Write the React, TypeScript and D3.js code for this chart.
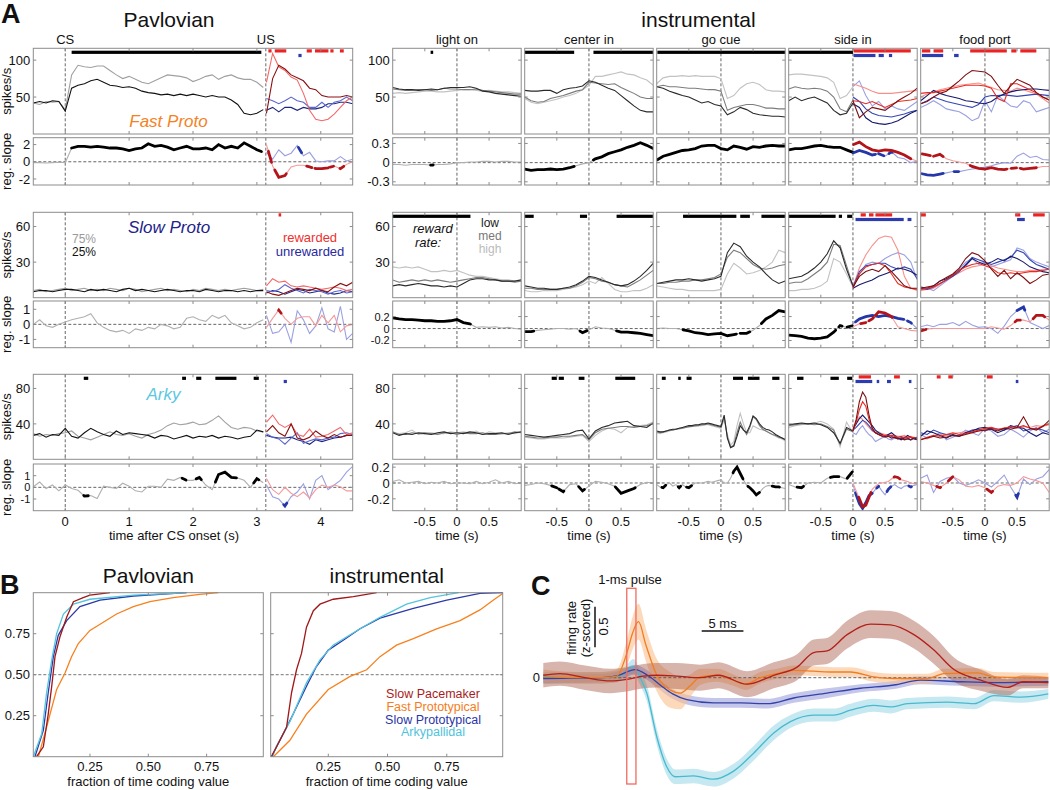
import React from "react";
import * as d3 from "d3";

type P = [number, number];
type Iv = [number, number];

const FONT = "'Liberation Sans', Arial, Helvetica, sans-serif";

// ================= PANEL A DATA =================
// Pavlovian pre-US samples: -0.5..3.1 s ; post-US samples: 3.15..4.5 s
const US_T = 3.14;
// ---- Fast Proto ----
const fastPav75 = [42,40,44,43,44,33,80,93,91,90,92,92,86,80,75,78,74,70,68,72,76,80,79,78,76,71,74,78,80,74,78,80,76,74,74,70,63];
const fastPav25 = [42,44,42,45,44,31,62,66,68,72,74,70,66,65,63,64,62,58,56,55,53,54,52,54,52,54,52,50,52,50,50,46,40,28,26,28,33];
const fastPavDRed = [28,75,93,88,80,76,72,62,60,52,50,50,50,52,50];
const fastPavLRed = [70,109,91,86,77,73,55,32,20,18,20,27,36,45,50];
const fastPavBlue = [48,45,41,45,50,45,43,36,36,43,36,43,45,50,45];
const fastPavNavy = [32,36,30,36,36,32,36,34,34,36,41,41,43,43,41];
const fastPavSlopePre = [-0.1,-0.1,-0.15,-0.1,-0.05,-0.1,1.6,1.8,1.8,1.7,1.8,1.7,1.6,1.6,1.5,1.3,1.5,1.6,2.1,1.8,1.9,1.7,1.4,1.6,1.8,1.5,1.5,1.6,1.4,2.0,1.6,1.8,1.6,2.2,1.8,1.4,1.1];
const fastPavSlopeRed = [2.0,-0.5,-1.8,-1.6,-0.6,-0.4,-0.4,-0.6,-0.8,-0.8,-0.7,-0.5,-0.8,-0.3,0];
const fastPavSlopeBlue = [1.1,0.3,1.4,0.7,1.0,1.9,0.7,1.1,0.1,0,0.1,0.1,0.6,0.1,0.3];
const fastPavK: Iv[] = [[0.1,3.07]];
const fastPavR: Iv[] = [[3.18,3.23],[3.28,3.46],[3.78,3.86],[3.91,4.12],[4.15,4.2],[4.3,4.36]];
const fastPavB: Iv[] = [[3.65,3.7]];
// instrumental: -1..1 s
const fastLoLow = [63,61,60,60,59,60,61,60,62,63,63,63,64,62,58,57,55,54,53,52,51];
const fastLoMed = [61,60,59,59,60,60,59,60,62,61,61,60,60,61,59,58,57,56,55,54,54];
const fastLoHigh = [55,56,55,56,57,58,58,57,57,58,59,60,60,59,58,59,58,57,57,56,55];
const fastLoSlope = [-0.03,-0.03,-0.04,-0.03,-0.03,-0.03,-0.04,-0.03,-0.03,-0.02,0,0,0.01,0.01,0.02,0.02,0.01,0.02,0.02,0.01,0.01];
const fastLoK: Iv[] = [[-0.41,-0.37]];
const fastCiLow = [59,58,58,59,59,55,60,62,63,65,72,70,66,62,59,52,45,38,32,30,30];
const fastCiMed = [50,45,43,44,48,50,52,55,58,60,70,69,68,67,68,63,59,55,50,48,48];
const fastCiHigh = [48,43,41,43,45,47,50,52,55,60,66,78,78,80,82,84,81,80,76,73,66];
const fastCiSlope = [-0.1,-0.12,-0.11,-0.11,-0.1,-0.11,-0.1,-0.08,-0.05,-0.02,0,0.06,0.09,0.14,0.17,0.2,0.24,0.27,0.31,0.27,0.22];
const fastCiK: Iv[] = [[-1,-0.23],[0.07,1]];
const fastGcLow = [64,62,58,55,52,50,46,42,44,40,38,26,30,36,33,28,26,25,24,24,23];
const fastGcMed = [64,66,64,64,63,62,62,61,60,60,58,32,36,38,40,40,38,35,35,34,34];
const fastGcHigh = [68,76,78,78,79,78,79,78,78,78,75,48,52,62,68,70,67,60,58,58,57];
const fastGcSlope = [0.04,0.1,0.13,0.16,0.19,0.2,0.22,0.26,0.27,0.27,0.22,0.2,0.26,0.24,0.21,0.25,0.24,0.26,0.27,0.26,0.26];
const fastGcK: Iv[] = [[-0.99,1]];
const fastSiPreLow = [45,50,45,48,50,46,42,32,26,28,42];
const fastSiPreMed = [61,64,62,61,62,61,58,50,34,30,46];
const fastSiPreHigh = [80,81,81,80,79,78,76,70,48,52,64];
const fastSiDRed = [45,22,30,36,34,32,38,45,50,55,62];
const fastSiRed = [45,44,41,44,40,36,40,44,45,46,48];
const fastSiLRed = [68,65,62,58,55,55,55,56,57,58,59];
const fastSiNavy = [41,36,22,16,14,13,15,18,23,28,32];
const fastSiBlue = [50,44,34,28,25,24,23,25,27,30,32];
const fastSiLBlue = [64,72,52,38,44,34,38,34,32,38,44];
const fastSiSlopePre = [0.2,0.22,0.22,0.24,0.26,0.27,0.25,0.24,0.24,0.2,0.16];
const fastSiSlopeRed = [0.28,0.32,0.25,0.2,0.18,0.2,0.19,0.16,0.12,0.06,0.02];
const fastSiSlopeBlue = [0.15,0.19,0.16,0.12,0.14,0.1,0.17,0.08,0.06,0.0,0.02];
const fastSiK: Iv[] = [[-1,0]];
const fastSiR: Iv[] = [[0.01,0.9]];
const fastSiB: Iv[] = [[0.01,0.35],[0.4,0.48],[0.56,0.61]];
const fastFpDRed = [41,44,50,55,58,65,72,80,86,85,84,78,66,55,65,74,70,66,56,50,46];
const fastFpRed = [55,56,56,58,60,62,64,66,66,66,65,62,48,44,68,68,64,60,56,50,46];
const fastFpLRed = [50,54,57,60,62,64,66,67,68,69,66,63,60,59,58,62,60,57,54,48,42];
const fastFpNavy = [45,52,59,55,52,50,48,45,44,42,41,44,50,54,57,59,60,61,61,60,59];
const fastFpBlue = [41,45,50,47,44,42,40,38,36,40,50,52,52,53,52,51,52,53,54,53,52];
const fastFpLBlue = [36,40,45,40,34,32,30,25,18,22,45,30,52,45,38,36,45,42,30,33,36];
const fastFpSlopeRed = [0.14,0.12,0.1,0.13,0.06,0.03,0.01,-0.01,-0.06,-0.09,-0.1,-0.08,-0.1,-0.11,-0.09,-0.08,-0.1,-0.09,-0.08,-0.06,-0.06];
const fastFpSlopeBlue = [-0.17,-0.19,-0.2,-0.18,-0.16,-0.14,-0.14,-0.12,-0.1,-0.09,-0.07,-0.05,-0.02,0,-0.01,0.1,0.15,0.08,0.1,0.05,0.04];
const fastFpR: Iv[] = [[-0.98,-0.85],[-0.8,-0.65],[-0.23,0.34],[0.41,0.49],[0.55,0.8]];
const fastFpB: Iv[] = [[-0.98,-0.65],[-0.48,-0.41]];

// ---- Slow Proto ----
const slowPav75 = [6,7,5,6,7,8,6,7,8,6,7,6,8,7,6,8,7,5,6,7,8,6,7,6,5,7,6,8,7,6,7,6,7,8,7,6,7];
const slowPav25 = [5,6,6,5,6,7,7,6,5,7,6,7,6,5,7,8,6,7,6,5,6,7,6,5,6,6,5,7,6,5,6,6,5,6,5,6,6];
const slowPavDRed = [5,3,2,4,6,8,7,6,8,6,5,9,12,10,13];
const slowPavLRed = [10,16,13,14,10,9,10,9,8,7,8,9,8,6,7];
const slowPavBlue = [6,5,7,11,8,6,4,7,6,5,3,5,6,4,5];
const slowPavNavy = [4,6,5,3,5,7,6,4,5,6,4,3,4,6,5];
const slowPavSlopePre = [0,0.3,-0.1,-0.2,0,0.15,0.3,0.4,0.5,0.7,0.1,-0.2,-0.4,-0.5,-0.4,-0.6,-0.3,-0.4,-0.2,-0.3,0,-0.1,-0.3,-0.2,0.4,0.5,0.3,0.2,0.6,0.4,0.6,0.1,-0.1,-0.3,-0.2,0.1,0.3];
const slowPavSlopeRed = [-0.2,0.4,0.95,0.4,0,0.4,0.5,0.5,-0.1,0.6,0.1,0.6,-0.5,-0.1,0];
const slowPavSlopeBlue = [0.6,-0.6,-0.5,0,-1.2,0.9,0.3,-0.6,-0.1,1.1,-0.3,-0.5,1.2,-1.0,-0.6];
const slowPavK: Iv[] = [];
const slowPavR: Iv[] = [[3.34,3.38]];
const slowPavB: Iv[] = [];
const slowLoLow = [10,11,10,11,12,11,10,10,9,10,9,12,15,16,16,15,15,14,14,14,15];
const slowLoMed = [15,13,14,15,14,15,14,15,14,13,14,15,16,17,17,16,15,14,14,13,14];
const slowLoHigh = [26,25,26,25,26,24,22,22,23,22,23,21,19,18,18,17,16,15,15,14,14];
const slowLoSlope = [0.18,0.16,0.15,0.15,0.14,0.13,0.13,0.12,0.12,0.13,0.15,0.1,0.08,0.02,0.03,0.02,0.03,0.01,0.02,0,-0.01];
const slowLoK: Iv[] = [[-1,0.21]];
const slowCiLow = [10,9,8,8,7,7,8,9,11,14,18,17,15,13,11,10,11,14,18,23,29];
const slowCiMed = [8,8,7,7,7,7,8,8,10,13,17,16,14,13,11,10,9,12,15,19,23];
const slowCiHigh = [6,5,5,6,6,6,7,8,9,11,14,12,17,12,7,5,5,6,6,8,11];
const slowCiSlope = [-0.05,-0.05,-0.03,-0.02,-0.01,0,0,-0.01,0,-0.07,-0.02,0.03,0.01,0,-0.03,-0.06,-0.06,-0.07,-0.08,-0.1,-0.12];
const slowCiK: Iv[] = [[-1,-0.86],[-0.14,-0.03],[0.43,1]];
const slowGcLow = [12,13,14,15,15,16,15,14,15,16,18,38,46,43,35,30,26,20,15,12,14];
const slowGcMed = [12,12,13,13,14,14,15,15,16,17,20,34,40,38,33,28,25,24,25,27,28];
const slowGcHigh = [10,9,8,7,7,6,6,6,6,6,7,20,29,25,20,21,23,26,30,40,38];
const slowGcSlope = [0,0.01,0,0,-0.02,-0.04,-0.07,-0.08,-0.1,-0.09,-0.08,-0.12,-0.1,-0.08,-0.08,-0.03,0.05,0.16,0.22,0.3,0.28];
const slowGcK: Iv[] = [[-0.59,0.24],[0.3,0.45],[0.63,1]];
const slowSiPreLow = [16,17,18,21,25,30,37,48,42,24,10];
const slowSiPreMed = [12,13,13,16,20,24,30,45,44,27,10];
const slowSiPreHigh = [6,6,7,7,8,10,14,33,30,20,9];
const slowSiDRed = [9,18,22,24,22,27,22,16,10,8,8];
const slowSiRed = [8,20,26,28,29,27,20,12,9,8,7];
const slowSiLRed = [9,25,36,44,50,52,51,40,18,8,6];
const slowSiNavy = [8,11,13,15,18,20,22,25,24,22,19];
const slowSiBlue = [9,22,27,28,29,29,26,24,26,24,16];
const slowSiLBlue = [9,20,28,30,29,33,36,38,36,30,15];
const slowSiSlopePre = [-0.11,-0.12,-0.13,-0.16,-0.17,-0.16,-0.14,-0.06,0.05,0.02,0.05];
const slowSiSlopeRed = [0.03,0.08,0.1,0.16,0.28,0.26,0.2,0.03,0,-0.03,-0.04];
const slowSiSlopeBlue = [0.08,0.16,0.2,0.22,0.2,0.22,0.2,0.17,0.15,0.1,0];
const slowSiK: Iv[] = [[-1,-0.27],[-0.22,-0.17],[-0.09,-0.01]];
const slowSiR: Iv[] = [[0.12,0.2],[0.25,0.32],[0.35,0.61]];
const slowSiB: Iv[] = [[0.04,0.79],[0.85,0.91]];
const slowFpDRed = [8,9,10,14,17,20,25,33,38,36,31,24,18,23,16,21,17,12,15,19,20];
const slowFpRed = [7,8,9,12,15,19,23,26,28,29,27,25,21,20,21,20,21,22,22,23,24];
const slowFpLRed = [6,7,8,11,15,18,21,24,26,27,28,27,25,24,23,22,22,23,23,24,24];
const slowFpNavy = [9,8,10,14,16,19,23,27,33,30,28,30,33,31,35,33,30,26,24,22,21];
const slowFpBlue = [8,7,9,12,15,18,22,28,34,32,30,28,30,32,34,40,38,32,28,26,24];
const slowFpLBlue = [6,8,6,10,14,18,24,30,33,28,30,26,28,30,32,42,40,33,30,28,26];
const slowFpSlopeRed = [-0.04,-0.01,0,0,0,0,0,0,0,0,0,0.03,0.01,-0.01,0.05,0.14,0.14,0.11,0.22,0.22,0.14];
const slowFpSlopeBlue = [0.03,0.06,0.03,0.07,0.07,0.1,0.05,0.12,0.06,0.02,0.03,0,-0.08,0.04,0.2,0.3,0.36,0.1,0.05,0,0.05];
const slowFpR: Iv[] = [[-1,-0.92],[0.47,0.55],[0.75,0.93]];
const slowFpB: Iv[] = [[0.5,0.62]];

// ---- Arky ----
const arkyPav75 = [29,26,28,27,29,30,32,26,24,22,25,28,31,28,27,29,26,24,28,30,33,38,41,39,40,42,39,40,44,49,42,36,34,36,35,32,31];
const arkyPav25 = [27,29,25,28,27,35,26,24,30,35,31,28,26,32,28,30,29,28,27,24,27,26,23,25,27,24,26,25,27,24,26,25,23,25,26,33,31];
const arkyPavDRed = [31,38,30,26,40,24,22,25,32,27,24,28,25,27,27];
const arkyPavLRed = [42,50,40,36,40,28,26,34,25,26,28,32,36,28,30];
const arkyPavBlue = [29,25,23,17,24,30,18,21,23,22,24,25,29,30,28];
const arkyPavNavy = [27,25,24,24,25,22,20,17,22,20,22,24,25,27,27];
const arkyPavSlopePre = [0.05,0.45,-0.1,0.2,-0.3,0.2,-0.1,-0.25,-0.75,-0.7,-0.95,0.1,0,-0.1,0.35,0.1,-0.3,-0.4,0.1,0.1,0,0.7,0.6,0.85,0.6,0.6,0.85,0.2,-0.2,1.1,1.3,0.85,0.8,0.6,0,0.75,0.4];
const arkyPavSlopeRed = [0.75,-0.2,-0.6,0,-0.5,-0.8,-0.4,-0.9,-0.2,0.2,0,0.2,0.05,-0.3,-0.3];
const arkyPavSlopeBlue = [0.2,-0.8,-1.0,-1.6,-0.8,-0.4,0.3,-1.0,0.6,1.0,-0.2,0.2,0.6,1.3,1.8];
const arkyPavK: Iv[] = [[0.29,0.36],[1.83,1.89],[2.05,2.13],[2.35,2.68],[2.95,3.03]];
const arkyPavR: Iv[] = [];
const arkyPavB: Iv[] = [[3.42,3.47]];
const arkyLoLow = [30,27,29,28,30,29,28,30,31,29,30,29,31,30,28,29,29,30,28,30,31];
const arkyLoMed = [31,28,28,30,29,30,29,28,30,30,28,30,29,29,30,28,28,29,29,31,30];
const arkyLoHigh = [30,29,30,33,28,29,30,29,29,31,30,31,30,32,28,31,30,29,30,29,31];
const arkyLoSlope = [0.02,0.04,0,0.01,0.02,-0.01,0.01,0,0.02,-0.01,0,0,-0.01,0.02,-0.01,0.01,0.04,0,0.02,-0.01,0];
const arkyLoK: Iv[] = [];
const arkyCiLow = [28,27,26,25,26,27,28,29,32,33,23,32,36,38,41,42,43,38,37,36,41];
const arkyCiMed = [26,25,24,24,25,25,26,26,27,28,22,30,34,35,36,37,37,36,37,38,40];
const arkyCiHigh = [25,24,23,23,24,24,24,25,26,27,20,27,32,35,34,30,36,37,38,39,42];
const arkyCiSlope = [-0.03,-0.02,0,-0.01,-0.03,-0.06,-0.11,-0.02,-0.01,-0.1,-0.04,0.02,0.01,-0.01,-0.04,-0.13,-0.1,-0.07,-0.02,0.01,0];
const arkyCiK: Iv[] = [[-0.58,-0.5],[-0.47,-0.39],[-0.16,-0.07],[0.41,0.72]];
// go cue (Arky) sampled every 50 ms
const arkyGcLow = [32,31,31,32,33,34,34,35,36,37,38,38,39,39,40,40,41,40,39,38,37,50,24,13,15,26,38,33,30,38,49,46,40,36,34,33,31,28,26,24,22];
const arkyGcMed = [31,30,31,32,33,33,34,35,35,36,37,37,38,38,39,39,40,39,38,37,36,48,25,14,16,30,42,34,28,36,48,45,38,34,32,30,28,27,25,24,23];
const arkyGcHigh = [30,29,30,31,32,33,34,34,35,36,36,37,37,38,38,39,39,38,37,36,35,45,28,16,20,38,52,40,30,30,38,36,34,33,32,30,28,26,24,23,21];
const arkyGcSlope = [-0.02,-0.05,-0.06,-0.02,0,-0.04,-0.02,-0.06,-0.02,-0.05,-0.06,-0.03,0,0,0,0.01,0.02,0.01,0.02,0.03,0.04,0,0,0.06,0.15,0.2,0.12,0.04,-0.03,-0.06,-0.1,-0.15,-0.12,-0.07,-0.04,-0.03,-0.04,-0.05,-0.05,-0.06,-0.07];
const arkyGcK: Iv[] = [[-0.92,-0.86],[-0.665,-0.628],[-0.535,-0.457],[0.188,0.343],[0.42,0.6],[0.798,0.91]];
const arkySiPreLow = [39,40,41,40,41,39,36,30,18,36,32];
const arkySiPreMed = [38,39,40,40,39,40,37,33,17,34,31];
const arkySiPreHigh = [36,38,39,40,41,43,40,34,14,42,30];
// side in (Arky) post samples every 50 ms
const arkySiDRed = [32,45,65,76,70,50,35,30,28,26,25,26,24,25,23,24,22,23,22,24,23];
const arkySiRed = [32,42,56,65,60,45,35,30,28,27,27,26,27,26,25,26,24,25,25,24,24];
const arkySiLRed = [35,42,48,45,40,36,32,30,31,29,28,28,27,27,26,26,27,25,26,25,24];
const arkySiNavy = [34,40,46,50,46,42,38,33,30,28,26,28,30,27,24,22,24,27,25,23,22];
const arkySiBlue = [33,36,40,44,42,38,33,30,28,27,26,27,26,24,23,24,25,24,22,24,25];
const arkySiLBlue = [30,28,34,38,32,28,25,20,22,24,26,23,22,24,25,24,23,24,22,24,25];
const arkySiSlopePre = [-0.02,-0.05,-0.06,0,0.01,0,0.06,0.08,0.08,0.05,0.15];
const arkySiSlopeRed = [0,-0.1,-0.2,-0.3,-0.28,-0.18,-0.08,-0.04,-0.01,0,0.01,0.02,0.05,0.08,0.07,0.04,0.03,0.02,0,-0.01,-0.02];
const arkySiSlopeBlue = [-0.02,-0.15,-0.26,-0.32,-0.25,-0.16,-0.13,-0.08,-0.04,-0.1,-0.15,-0.08,-0.04,-0.02,-0.05,-0.07,-0.04,-0.03,-0.05,-0.03,-0.02];
const arkySiK: Iv[] = [[-0.87,-0.77],[-0.35,-0.22],[-0.09,-0.01]];
const arkySiR: Iv[] = [[0.09,0.28],[0.64,0.73]];
const arkySiB: Iv[] = [[0.04,0.3],[0.37,0.4],[0.53,0.59],[0.87,0.91]];
const arkyFpDRed = [22,24,26,24,25,27,26,28,30,32,33,34,32,35,34,36,48,35,33,37,44];
const arkyFpRed = [22,25,27,26,28,30,28,29,31,33,35,36,34,35,37,36,38,35,34,38,40];
const arkyFpLRed = [24,23,26,28,27,29,30,31,30,32,34,35,33,36,36,35,37,36,38,37,39];
const arkyFpNavy = [26,32,30,27,24,28,26,30,32,35,36,34,30,33,38,36,35,30,26,30,28];
const arkyFpBlue = [30,28,33,30,28,27,26,30,33,34,32,35,34,33,36,38,32,34,35,33,30];
const arkyFpLBlue = [28,24,26,30,22,25,28,33,30,27,35,32,26,28,34,30,25,32,36,30,34];
const arkyFpSlopeRed = [0.02,0,-0.03,-0.06,0,0.08,0.04,-0.04,-0.05,-0.03,-0.06,-0.12,-0.04,-0.02,-0.03,0,0.08,0.05,0.03,0,-0.12];
const arkyFpSlopeBlue = [0.06,0.1,-0.12,0.02,0.06,0.08,0,-0.03,0,0.04,0,-0.05,0.02,0.1,-0.05,-0.18,0.05,-0.02,0.05,0.08,0.17];
const arkyFpR: Iv[] = [[-0.75,-0.69],[-0.57,-0.5],[0.03,0.12]];
const arkyFpB: Iv[] = [[0.48,0.52]];

const eventLabels = ["light on", "center in", "go cue", "side in", "food port"];
const cellLabels = ["Fast Proto", "Slow Proto", "Arky"];

// ================= PANEL B DATA (fraction, cumulative proportion) =================
const bPavPace: P[] = [[0.021,0],[0.05,0.06],[0.071,0.26],[0.086,0.43],[0.1,0.61],[0.121,0.73],[0.15,0.85],[0.179,0.945],[0.221,0.97],[0.25,0.985],[0.336,1]];
const bPavFast: P[] = [[0.029,0],[0.064,0.18],[0.107,0.41],[0.143,0.51],[0.171,0.61],[0.2,0.69],[0.25,0.77],[0.307,0.82],[0.364,0.87],[0.436,0.915],[0.507,0.945],[0.607,0.97],[0.721,0.99],[0.8,1]];
const bPavSlow: P[] = [[0.014,0],[0.05,0.16],[0.071,0.39],[0.093,0.61],[0.114,0.74],[0.15,0.83],[0.207,0.915],[0.293,0.955],[0.436,0.98],[0.664,1]];
const bPavArky: P[] = [[0.007,0],[0.043,0.14],[0.064,0.39],[0.086,0.59],[0.107,0.75],[0.136,0.87],[0.179,0.93],[0.25,0.96],[0.436,0.985],[0.61,0.996],[0.664,1]];
const bInsPace: P[] = [[0.01,0],[0.074,0.18],[0.095,0.39],[0.116,0.53],[0.137,0.63],[0.158,0.79],[0.187,0.89],[0.215,0.93],[0.271,0.96],[0.356,0.976],[0.454,1]];
const bInsFast: P[] = [[0.018,0],[0.088,0.1],[0.158,0.26],[0.25,0.41],[0.342,0.49],[0.412,0.53],[0.468,0.61],[0.538,0.68],[0.609,0.72],[0.707,0.78],[0.806,0.83],[0.89,0.895],[0.947,0.955],[0.986,0.995]];
const bInsSlow: P[] = [[0.01,0],[0.06,0.14],[0.102,0.26],[0.158,0.43],[0.2,0.55],[0.25,0.65],[0.313,0.71],[0.384,0.78],[0.468,0.845],[0.609,0.905],[0.75,0.955],[0.89,0.996],[0.986,1]];
const bInsArky: P[] = [[0.015,0],[0.03,0.06],[0.09,0.22],[0.158,0.45],[0.215,0.59],[0.27,0.68],[0.384,0.78],[0.468,0.85],[0.58,0.93],[0.68,0.97],[0.8,1]];
const bTicks = [0.25, 0.5, 0.75];
const bLegend = ["Slow Pacemaker", "Fast Prototypical", "Slow Prototypical", "Arkypallidal"];

// ================= PANEL C DATA [ms, z mean, sem] =================
const cFast = [[-10,0.02,0.08],[-6,0,0.07],[-3,0,0.07],[-1.2,0.02,0.08],[0,0.3,0.16],[0.7,0.55,0.2],[1.4,0.69,0.22],[2.3,0.4,0.2],[3.6,0.03,0.2],[5.2,-0.15,0.22],[6.4,-0.19,0.2],[7.6,-0.1,0.14],[8.8,0.01,0.1],[10.8,0.03,0.08],[12.8,-0.03,0.07],[14.2,-0.08,0.07],[16,0,0.07],[18,0.05,0.06],[20,0.09,0.06],[22.4,0.08,0.06],[24.8,0.07,0.06],[26.8,0.07,0.06],[29.6,0.01,0.06],[32,-0.01,0.06],[36,-0.01,0.06],[38,0.05,0.06],[42,0.06,0.06],[44,0.01,0.06],[50.5,0,0.06]];
const cArky = [[-10,0,0.07],[-3,0,0.07],[-1,0.02,0.07],[0,0.08,0.08],[0.8,0.14,0.09],[1.6,0,0.09],[2.4,-0.19,0.1],[3.6,-0.73,0.1],[4.8,-1.1,0.1],[5.8,-1.22,0.09],[8,-1.21,0.09],[10.4,-1.25,0.09],[12.8,-1.15,0.09],[15.2,-0.93,0.09],[17.6,-0.68,0.09],[19.6,-0.54,0.08],[22.4,-0.46,0.08],[24.8,-0.46,0.08],[26.8,-0.4,0.08],[29.6,-0.34,0.08],[31.6,-0.36,0.08],[33.6,-0.32,0.07],[38.4,-0.3,0.07],[41.6,-0.32,0.07],[44,-0.22,0.07],[47.2,-0.24,0.07],[50.5,-0.2,0.06]];
const cSlow = [[-10,-0.01,0.06],[-3,0,0.05],[-1,0.03,0.05],[1,0.1,0.06],[2.5,0.03,0.06],[4,-0.09,0.06],[5.5,-0.2,0.06],[7.2,-0.27,0.06],[10.4,-0.31,0.06],[13.6,-0.31,0.06],[16.8,-0.32,0.06],[20,-0.25,0.06],[24,-0.19,0.06],[28,-0.13,0.05],[32,-0.09,0.05],[35.2,-0.03,0.05],[40,-0.05,0.05],[44,-0.06,0.05],[50.5,-0.05,0.05]];
const cPace = [[-10,0.03,0.15],[-8,0.05,0.15],[-5,0,0.15],[-2,-0.04,0.15],[0,-0.02,0.15],[2,0.02,0.15],[3.6,0.03,0.15],[6,0.02,0.16],[8.8,0,0.16],[11,0.03,0.16],[14.4,-0.08,0.16],[17.6,0.03,0.16],[20.4,0.13,0.16],[22.4,0.31,0.16],[24,0.33,0.16],[26.4,0.53,0.17],[29.2,0.66,0.17],[31.6,0.65,0.17],[34.4,0.53,0.17],[36.8,0.34,0.17],[39.2,0.1,0.15],[42.4,-0.03,0.13],[45.6,-0.12,0.1],[47.5,-0.05,0.08],[50.5,-0.06,0.07]];
const cPulse = [0, 1.1];

// ================= HELPERS =================
function ev(t0: number, t1: number, v: number[]): P[] {
  const dt = (t1 - t0) / (v.length - 1);
  return v.map((y, i) => [t0 + i * dt, y] as P);
}
function interp(p: P[], t: number) {
  if (t <= p[0][0]) return p[0][1];
  for (let i = 0; i < p.length - 1; i++) {
    if (t <= p[i + 1][0]) {
      const f = (t - p[i][0]) / (p[i + 1][0] - p[i][0]);
      return p[i][1] + f * (p[i + 1][1] - p[i][1]);
    }
  }
  return p[p.length - 1][1];
}
function piece(p: P[], a: number, b: number): P[] | null {
  const lo = Math.max(a, p[0][0]), hi = Math.min(b, p[p.length - 1][0]);
  if (hi <= lo) return null;
  const out: P[] = [[lo, interp(p, lo)]];
  p.forEach((q) => { if (q[0] > lo && q[0] < hi) out.push(q); });
  out.push([hi, interp(p, hi)]);
  return out;
}

const GC = { low: "#2a2a2a", med: "#7c7c7c", high: "#c2c2c2", p75: "#a0a0a0", p25: "#111111" };
const RC = { dRed: "#7c1010", red: "#ea2a22", lRed: "#f7908b", navy: "#16196a", blue: "#3546b5", lBlue: "#9ba1e2" };
const PC = { dRed: "#8b1010", lRed: "#f46868", blue: "#5a66cc", navy: "#1e2680" };
const SLC = { gThin: "#b0b0b0", gThick: "#000000", rThin: "#f59a9a", rThick: "#b3141a", bThin: "#9ba0e0", bThick: "#2536a8" };
const FRAME = "#8c8c8c";

type Tr = { p: P[]; c: string };
type SlTr = { p: P[]; thin: string; thick: string; iv: Iv[] };
type Bar = { iv: Iv[]; kind: "k" | "r" | "b" };
type Spec = { kind: "pav" | "ins"; col: number; row: number; sp: Tr[]; sl: SlTr[]; bars: Bar[] };

const pavPanel = (row: number, g75: number[], g25: number[], dR: number[], lR: number[], bl: number[], nv: number[], slPre: number[], slR: number[], slB: number[], K: Iv[], R: Iv[], B: Iv[]): Spec => ({
  kind: "pav", col: 0, row,
  sp: [
    { p: ev(-0.5, 3.1, g75), c: GC.p75 },
    { p: ev(-0.5, 3.1, g25), c: GC.p25 },
    { p: ev(3.15, 4.5, nv), c: PC.navy },
    { p: ev(3.15, 4.5, bl), c: PC.blue },
    { p: ev(3.15, 4.5, lR), c: PC.lRed },
    { p: ev(3.15, 4.5, dR), c: PC.dRed },
  ],
  sl: [
    { p: ev(-0.5, 3.1, slPre), thin: SLC.gThin, thick: SLC.gThick, iv: K },
    { p: ev(3.15, 4.5, slB), thin: SLC.bThin, thick: SLC.bThick, iv: B },
    { p: ev(3.15, 4.5, slR), thin: SLC.rThin, thick: SLC.rThick, iv: R },
  ],
  bars: [{ iv: K, kind: "k" }, { iv: R, kind: "r" }, { iv: B, kind: "b" }],
});
const grayPanel = (row: number, col: number, low: number[], med: number[], high: number[], sl: number[], K: Iv[]): Spec => ({
  kind: "ins", col, row,
  sp: [
    { p: ev(-1, 1, high), c: GC.high },
    { p: ev(-1, 1, med), c: GC.med },
    { p: ev(-1, 1, low), c: GC.low },
  ],
  sl: [{ p: ev(-1, 1, sl), thin: SLC.gThin, thick: SLC.gThick, iv: K }],
  bars: [{ iv: K, kind: "k" }],
});
const sidePanel = (row: number, low: number[], med: number[], high: number[], dR: number[], r: number[], lR: number[], nv: number[], bl: number[], lB: number[], slPre: number[], slR: number[], slB: number[], K: Iv[], R: Iv[], B: Iv[]): Spec => ({
  kind: "ins", col: 4, row,
  sp: [
    { p: ev(-1, 0, high), c: GC.high },
    { p: ev(-1, 0, med), c: GC.med },
    { p: ev(-1, 0, low), c: GC.low },
    { p: ev(0, 1, lB), c: RC.lBlue },
    { p: ev(0, 1, lR), c: RC.lRed },
    { p: ev(0, 1, bl), c: RC.blue },
    { p: ev(0, 1, nv), c: RC.navy },
    { p: ev(0, 1, r), c: RC.red },
    { p: ev(0, 1, dR), c: RC.dRed },
  ],
  sl: [
    { p: ev(-1, 0, slPre), thin: SLC.gThin, thick: SLC.gThick, iv: K },
    { p: ev(0, 1, slB), thin: SLC.bThin, thick: SLC.bThick, iv: B },
    { p: ev(0, 1, slR), thin: SLC.rThin, thick: SLC.rThick, iv: R },
  ],
  bars: [{ iv: K, kind: "k" }, { iv: R, kind: "r" }, { iv: B, kind: "b" }],
});
const foodPanel = (row: number, dR: number[], r: number[], lR: number[], nv: number[], bl: number[], lB: number[], slR: number[], slB: number[], R: Iv[], B: Iv[]): Spec => ({
  kind: "ins", col: 5, row,
  sp: [
    { p: ev(-1, 1, lB), c: RC.lBlue },
    { p: ev(-1, 1, lR), c: RC.lRed },
    { p: ev(-1, 1, bl), c: RC.blue },
    { p: ev(-1, 1, nv), c: RC.navy },
    { p: ev(-1, 1, r), c: RC.red },
    { p: ev(-1, 1, dR), c: RC.dRed },
  ],
  sl: [
    { p: ev(-1, 1, slB), thin: SLC.bThin, thick: SLC.bThick, iv: B },
    { p: ev(-1, 1, slR), thin: SLC.rThin, thick: SLC.rThick, iv: R },
  ],
  bars: [{ iv: R, kind: "r" }, { iv: B, kind: "b" }],
});

const SPECS: Spec[] = [
  pavPanel(0, fastPav75, fastPav25, fastPavDRed, fastPavLRed, fastPavBlue, fastPavNavy, fastPavSlopePre, fastPavSlopeRed, fastPavSlopeBlue, fastPavK, fastPavR, fastPavB),
  grayPanel(0, 1, fastLoLow, fastLoMed, fastLoHigh, fastLoSlope, fastLoK),
  grayPanel(0, 2, fastCiLow, fastCiMed, fastCiHigh, fastCiSlope, fastCiK),
  grayPanel(0, 3, fastGcLow, fastGcMed, fastGcHigh, fastGcSlope, fastGcK),
  sidePanel(0, fastSiPreLow, fastSiPreMed, fastSiPreHigh, fastSiDRed, fastSiRed, fastSiLRed, fastSiNavy, fastSiBlue, fastSiLBlue, fastSiSlopePre, fastSiSlopeRed, fastSiSlopeBlue, fastSiK, fastSiR, fastSiB),
  foodPanel(0, fastFpDRed, fastFpRed, fastFpLRed, fastFpNavy, fastFpBlue, fastFpLBlue, fastFpSlopeRed, fastFpSlopeBlue, fastFpR, fastFpB),
  pavPanel(1, slowPav75, slowPav25, slowPavDRed, slowPavLRed, slowPavBlue, slowPavNavy, slowPavSlopePre, slowPavSlopeRed, slowPavSlopeBlue, slowPavK, slowPavR, slowPavB),
  grayPanel(1, 1, slowLoLow, slowLoMed, slowLoHigh, slowLoSlope, slowLoK),
  grayPanel(1, 2, slowCiLow, slowCiMed, slowCiHigh, slowCiSlope, slowCiK),
  grayPanel(1, 3, slowGcLow, slowGcMed, slowGcHigh, slowGcSlope, slowGcK),
  sidePanel(1, slowSiPreLow, slowSiPreMed, slowSiPreHigh, slowSiDRed, slowSiRed, slowSiLRed, slowSiNavy, slowSiBlue, slowSiLBlue, slowSiSlopePre, slowSiSlopeRed, slowSiSlopeBlue, slowSiK, slowSiR, slowSiB),
  foodPanel(1, slowFpDRed, slowFpRed, slowFpLRed, slowFpNavy, slowFpBlue, slowFpLBlue, slowFpSlopeRed, slowFpSlopeBlue, slowFpR, slowFpB),
  pavPanel(2, arkyPav75, arkyPav25, arkyPavDRed, arkyPavLRed, arkyPavBlue, arkyPavNavy, arkyPavSlopePre, arkyPavSlopeRed, arkyPavSlopeBlue, arkyPavK, arkyPavR, arkyPavB),
  grayPanel(2, 1, arkyLoLow, arkyLoMed, arkyLoHigh, arkyLoSlope, arkyLoK),
  grayPanel(2, 2, arkyCiLow, arkyCiMed, arkyCiHigh, arkyCiSlope, arkyCiK),
  grayPanel(2, 3, arkyGcLow, arkyGcMed, arkyGcHigh, arkyGcSlope, arkyGcK),
  sidePanel(2, arkySiPreLow, arkySiPreMed, arkySiPreHigh, arkySiDRed, arkySiRed, arkySiLRed, arkySiNavy, arkySiBlue, arkySiLBlue, arkySiSlopePre, arkySiSlopeRed, arkySiSlopeBlue, arkySiK, arkySiR, arkySiB),
  foodPanel(2, arkyFpDRed, arkyFpRed, arkyFpLRed, arkyFpNavy, arkyFpBlue, arkyFpLBlue, arkyFpSlopeRed, arkyFpSlopeBlue, arkyFpR, arkyFpB),
];

// ================= LAYOUT =================
const PAVX: [number, number] = [33.3, 352.7];
const INS_LEFT = 392.7, INS_STEP = 132, INS_W = 128.5;
const ROW_Y = [
  { sp: [48.3, 134], sl: [137.7, 185] },
  { sp: [212.3, 297.7], sl: [301, 347.7] },
  { sp: [374.3, 459.3], sl: [464, 510.7] },
];
const SP_DOM = [[0, 116], [0, 72], [0, 96]];
const SP_TICKS = [[50, 100], [30, 60], [40, 80]];
const PAV_SL_DOM = [[-2.7, 2.8], [-1.55, 1.55], [-2, 2]];
const PAV_SL_TICKS = [[-2, 0, 2], [-1, 0, 1], [-1, 0, 1]];
const INS_SL_DOM = [[-0.35, 0.39], [-0.32, 0.46], [-0.35, 0.24]];
const INS_SL_TICKS = [[-0.3, 0, 0.3], [-0.2, 0, 0.2], [-0.2, 0, 0.2]];
const insX = (col: number): [number, number] => [INS_LEFT + (col - 1) * INS_STEP, INS_LEFT + (col - 1) * INS_STEP + INS_W];

function Frame({ x0, x1, y0, y1, xt, yt, xs, ys }: any) {
  const tl = 3;
  return (
    <g stroke={FRAME} fill="none" strokeWidth={1}>
      <rect x={x0} y={y0} width={x1 - x0} height={y1 - y0} />
      {xt.map((t: number) => (
        <g key={"x" + t}>
          <line x1={xs(t)} x2={xs(t)} y1={y1} y2={y1 - tl} />
          <line x1={xs(t)} x2={xs(t)} y1={y0} y2={y0 + tl} />
        </g>
      ))}
      {yt.map((v: number) => (
        <g key={"y" + v}>
          <line x1={x0} x2={x0 + tl} y1={ys(v)} y2={ys(v)} />
          <line x1={x1} x2={x1 - tl} y1={ys(v)} y2={ys(v)} />
        </g>
      ))}
    </g>
  );
}

function APanel({ s }: { s: Spec }) {
  const isPav = s.kind === "pav";
  const xr = isPav ? PAVX : insX(s.col);
  const xs = d3.scaleLinear().domain(isPav ? [-0.5, 4.5] : [-1, 1]).range(xr);
  const R = ROW_Y[s.row];
  const ys = d3.scaleLinear().domain(SP_DOM[s.row]).range([R.sp[1], R.sp[0]]);
  const yl = d3.scaleLinear().domain(isPav ? PAV_SL_DOM[s.row] : INS_SL_DOM[s.row]).range([R.sl[1], R.sl[0]]);
  const lineS = d3.line<P>().x((d) => xs(d[0])).y((d) => ys(d[1]));
  const lineL = d3.line<P>().x((d) => xs(d[0])).y((d) => yl(d[1]));
  const xt = isPav ? [0, 1, 2, 3, 4] : [-0.5, 0, 0.5];
  const yt = SP_TICKS[s.row];
  const ylt = isPav ? PAV_SL_TICKS[s.row] : INS_SL_TICKS[s.row];
  const vl = isPav ? [0, US_T] : [0];
  const id = `a${s.row}${s.col}`;
  const showY = s.col <= 1;
  const showX = s.row === 2;
  const barY: any = { k: R.sp[0] + 4, r: R.sp[0] + 2.6, b: R.sp[0] + 7.2 };
  const barC: any = { k: "#000", r: "#ee2222", b: "#2a3cb0" };
  const labelX = xr[0] - 3;
  const slGap = Math.abs(yl(ylt[0]) - yl(ylt[1]));
  const slFont = slGap < 13 ? 11 : 13;
  return (
    <g>
      <defs>
        <clipPath id={id + "s"}><rect x={xr[0]} y={R.sp[0]} width={xr[1] - xr[0]} height={R.sp[1] - R.sp[0]} /></clipPath>
        <clipPath id={id + "l"}><rect x={xr[0]} y={R.sl[0]} width={xr[1] - xr[0]} height={R.sl[1] - R.sl[0]} /></clipPath>
      </defs>
      {vl.map((t) => (
        <g key={"v" + t} stroke="#555" strokeWidth={0.9} strokeDasharray="3,2">
          <line x1={xs(t)} x2={xs(t)} y1={R.sp[0]} y2={R.sp[1]} />
          <line x1={xs(t)} x2={xs(t)} y1={R.sl[0]} y2={R.sl[1]} />
        </g>
      ))}
      <line x1={xr[0]} x2={xr[1]} y1={yl(0)} y2={yl(0)} stroke="#555" strokeWidth={0.9} strokeDasharray="3,2" />
      <g clipPath={`url(#${id}s)`} fill="none" strokeWidth={1.1}>
        {s.sp.map((tr, i) => <path key={i} d={lineS(tr.p) || ""} stroke={tr.c} />)}
      </g>
      <g clipPath={`url(#${id}l)`} fill="none">
        {s.sl.map((tr, i) => (
          <g key={i}>
            <path d={lineL(tr.p) || ""} stroke={tr.thin} strokeWidth={1.1} />
            {tr.iv.map((iv, j) => {
              const pc = piece(tr.p, iv[0], iv[1]);
              return pc ? <path key={j} d={lineL(pc) || ""} stroke={tr.thick} strokeWidth={2.8} strokeLinecap="round" /> : null;
            })}
          </g>
        ))}
      </g>
      {s.bars.map((b, i) =>
        b.iv.map((iv, j) => {
          const a = xs(iv[0]), e = xs(iv[1]);
          const w = Math.max(e - a, 2.5);
          return <rect key={i + "-" + j} x={a} y={barY[b.kind] - 1.6} width={w} height={3.2} fill={barC[b.kind]} />;
        })
      )}
      <Frame x0={xr[0]} x1={xr[1]} y0={R.sp[0]} y1={R.sp[1]} xt={xt} yt={yt} xs={xs} ys={ys} />
      <Frame x0={xr[0]} x1={xr[1]} y0={R.sl[0]} y1={R.sl[1]} xt={xt} yt={ylt} xs={xs} ys={yl} />
      {showY && (
        <g textAnchor="end" fill="#111">
          {yt.map((v) => <text key={"ty" + v} x={labelX} y={ys(v)} dy="0.36em" fontSize={13}>{v}</text>)}
          {ylt.map((v) => <text key={"tl" + v} x={labelX} y={yl(v)} dy="0.36em" fontSize={slFont}>{v}</text>)}
        </g>
      )}
      {showX && (
        <g fontSize={13} textAnchor="middle" fill="#111">
          {xt.map((t) => <text key={"tx" + t} x={xs(t)} y={525.5}>{t}</text>)}
          <text x={isPav ? 174 : (xr[0] + xr[1]) / 2} y={539.5}>{isPav ? "time after CS onset (s)" : "time (s)"}</text>
        </g>
      )}
      {s.row === 0 && !isPav && (
        <text x={(xr[0] + xr[1]) / 2} y={43.5} fontSize={13} textAnchor="middle" fill="#111">{eventLabels[s.col - 1]}</text>
      )}
      {s.row === 0 && isPav && (
        <g fontSize={13} textAnchor="middle" fill="#111">
          <text x={xs(0)} y={43.5}>CS</text>
          <text x={xs(US_T)} y={43.5}>US</text>
        </g>
      )}
    </g>
  );
}

function PanelB() {
  const yb = d3.scaleLinear().domain([0, 1]).range([756.7, 592.7]);
  const panels = [
    { xs: d3.scaleLinear().domain([0.007, 0.993]).range([33.3, 263.3]), data: [bPavFast, bPavSlow, bPavArky, bPavPace], title: "Pavlovian", yl: true },
    { xs: d3.scaleLinear().domain([0.007, 0.986]).range([270.7, 502.7]), data: [bInsFast, bInsSlow, bInsArky, bInsPace], title: "instrumental", yl: false },
  ];
  const cols = ["#f7811e", "#2b3aa8", "#54c5de", "#a01818"];
  return (
    <g>
      {panels.map((p, k) => {
        const [x0, x1] = p.xs.range();
        const line = d3.line<P>().x((d) => p.xs(d[0])).y((d) => yb(d[1]));
        return (
          <g key={k}>
            <line x1={x0} x2={x1} y1={yb(0.5)} y2={yb(0.5)} stroke="#666" strokeDasharray="3,2" strokeWidth={0.9} />
            {p.data.map((d, i) => <path key={i} d={line(d) || ""} fill="none" stroke={cols[i]} strokeWidth={1.3} />)}
            <Frame x0={x0} x1={x1} y0={592.7} y1={756.7} xt={bTicks} yt={bTicks} xs={p.xs} ys={yb} />
            <g fontSize={13} fill="#111" textAnchor="middle">
              {bTicks.map((t) => <text key={t} x={p.xs(t)} y={771}>{t.toFixed(2)}</text>)}
              <text x={(x0 + x1) / 2} y={786}>fraction of time coding value</text>
              <text x={(x0 + x1) / 2} y={583} fontSize={21}>{p.title}</text>
            </g>
            {p.yl && (
              <g fontSize={13} fill="#111" textAnchor="end">
                {bTicks.map((t) => <text key={t} x={30} y={yb(t)} dy="0.36em">{t.toFixed(2)}</text>)}
              </g>
            )}
          </g>
        );
      })}
      <g fontSize={12.5} textAnchor="middle">
        {bLegend.map((l, i) => (
          <text key={l} x={433} y={698.3 + i * 12.6} fill={["#a81c1c", "#f47c20", "#2a35a8", "#4fc3dc"][i]}>{l}</text>
        ))}
      </g>
    </g>
  );
}

function PanelC() {
  const xc = d3.scaleLinear().domain([-10, 50.5]).range([543.3, 1048.3]);
  const yc = d3.scaleLinear().domain([0, 1]).range([677.7, 596.5]);
  const series = [
    { d: cArky, line: "#48b9cf", band: "#b2e0ec", op: 0.75 },
    { d: cSlow, line: "#3341a8", band: "#8a8ed6", op: 0.5 },
    { d: cFast, line: "#ef7d22", band: "#fcc08e", op: 0.6 },
    { d: cPace, line: "#b3201b", band: "#a65a48", op: 0.45 },
  ];
  const area = d3.area<number[]>().x((d) => xc(d[0])).y0((d) => yc(d[1] - d[2])).y1((d) => yc(d[1] + d[2])).curve(d3.curveMonotoneX);
  const line = d3.line<number[]>().x((d) => xc(d[0])).y((d) => yc(d[1])).curve(d3.curveMonotoneX);
  const sbLen = yc(0) - yc(0.5);
  const hbLen = xc(5) - xc(0);
  return (
    <g>
      {series.map((s, i) => <path key={"b" + i} d={area(s.d) || ""} fill={s.band} opacity={s.op} />)}
      <line x1={xc(-10)} x2={xc(50.5)} y1={yc(0)} y2={yc(0)} stroke="#555" strokeDasharray="3,2" strokeWidth={0.9} />
      {series.map((s, i) => <path key={"l" + i} d={line(s.d) || ""} fill="none" stroke={s.line} strokeWidth={1.3} />)}
      <rect x={xc(cPulse[0])} y={588.3} width={xc(cPulse[1]) - xc(cPulse[0])} height={195.7} fill="none" stroke="#f06a60" strokeWidth={1.3} />
      <text x={630} y={584} fontSize={13} textAnchor="middle" fill="#111">1-ms pulse</text>
      <text x={540} y={yc(0)} dy="0.36em" fontSize={13} textAnchor="end" fill="#111">0</text>
      <line x1={595} x2={595} y1={647.3 - sbLen} y2={647.3} stroke="#111" strokeWidth={1.5} />
      <g fontSize={13} textAnchor="middle" fill="#111">
        <text transform="translate(576,628) rotate(-90)">firing rate</text>
        <text transform="translate(589.5,628) rotate(-90)">(z-scored)</text>
        <text transform="translate(607.5,626.5) rotate(-90)">0.5</text>
      </g>
      <line x1={701.7} x2={701.7 + hbLen} y1={631} y2={631} stroke="#111" strokeWidth={1.5} />
      <text x={701.7 + hbLen / 2} y={627.5} fontSize={13} textAnchor="middle" fill="#111">5 ms</text>
    </g>
  );
}

export default function App() {
  return (
    <svg width={1050} height={790} style={{ position: "absolute", left: 0, top: 0, background: "#fff" }} fontFamily={FONT}>
      <rect x={0} y={0} width={1050} height={790} fill="#fff" />
      <text x={1} y={23} fontSize={27} fontWeight="bold" fill="#111">A</text>
      <text x={0} y={594} fontSize={27} fontWeight="bold" fill="#111">B</text>
      <text x={531} y={595} fontSize={27} fontWeight="bold" fill="#111">C</text>
      <text x={169} y={27} fontSize={21} textAnchor="middle" fill="#111">Pavlovian</text>
      <text x={698.5} y={27} fontSize={21} textAnchor="middle" fill="#111">instrumental</text>
      {SPECS.map((s, i) => <APanel key={i} s={s} />)}
      {/* y axis labels */}
      <g fontSize={13} textAnchor="middle" fill="#111">
        {ROW_Y.map((r, i) => (
          <g key={i}>
            <text transform={`translate(11,${(r.sp[0] + r.sp[1]) / 2}) rotate(-90)`}>spikes/s</text>
            <text transform={`translate(11,${(r.sl[0] + r.sl[1]) / 2}) rotate(-90)`}>reg. slope</text>
          </g>
        ))}
      </g>
      {/* cell type labels */}
      <g fontSize={17} fontStyle="italic" textAnchor="middle">
        <text x={168.5} y={127} fill="#f5821f">{cellLabels[0]}</text>
        <text x={169} y={232.5} fill="#22228a">{cellLabels[1]}</text>
        <text x={163.5} y={399.5} fill="#5bc8e0">{cellLabels[2]}</text>
      </g>
      <g fontSize={12}>
        <text x={72} y={242.5} fill="#9a9a9a">75%</text>
        <text x={72} y={255.5} fill="#111">25%</text>
        <text x={310} y={241.5} fill="#ee3030" textAnchor="middle" fontSize={13}>rewarded</text>
        <text x={310} y={255.5} fill="#2a2aa0" textAnchor="middle" fontSize={13}>unrewarded</text>
        <text x={413} y={232.5} fontStyle="italic" fill="#111" fontSize={13}>reward</text>
        <text x={415} y={246.5} fontStyle="italic" fill="#111" fontSize={13}>rate:</text>
        <text x={490} y={226.5} textAnchor="middle" fill="#222">low</text>
        <text x={490} y={239.5} textAnchor="middle" fill="#777">med</text>
        <text x={490} y={252.5} textAnchor="middle" fill="#bbb">high</text>
      </g>
      <PanelB />
      <PanelC />
    </svg>
  );
}
